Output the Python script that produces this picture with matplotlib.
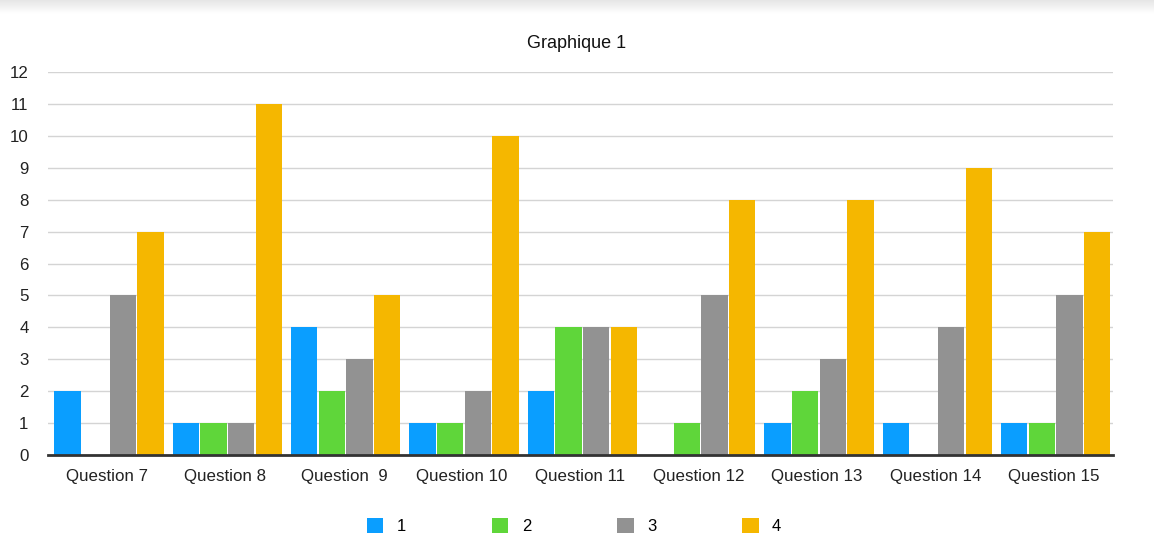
import numpy as np
import matplotlib
matplotlib.use('Agg')
import matplotlib.pyplot as plt
from matplotlib.patches import Patch

# Data
categories = ['Question 7', 'Question 8', 'Question  9', 'Question 10', 'Question 11',
              'Question 12', 'Question 13', 'Question 14', 'Question 15']
series_names = ['1', '2', '3', '4']
s1 = [2, 1, 4, 1, 2, 0, 1, 1, 1]
s2 = [0, 1, 2, 1, 4, 1, 2, 0, 1]
s3 = [5, 1, 3, 2, 4, 5, 3, 4, 5]
s4 = [7, 11, 5, 10, 4, 8, 8, 9, 7]
colors = ['#0A9EFF', '#5FD63A', '#929292', '#F5B700']

plt.rcParams['font.family'] = ['Liberation Sans', 'DejaVu Sans']

fig = plt.figure(figsize=(11.54, 5.37), dpi=100)

# light grey strip at the top of the picture
band = fig.add_axes([0, 1 - 14 / 537, 1, 14 / 537])
grad = np.linspace(0.90, 1.0, 20).reshape(-1, 1)
band.imshow(grad, cmap='gray', vmin=0, vmax=1, aspect='auto', extent=[0, 1, 0, 1])
band.axis('off')

ax = fig.add_axes([48 / 1154, 1 - 455 / 537, (1113 - 48) / 1154, (455 - 72) / 537])

x = np.arange(len(categories))
w = 0.222
step = 0.234
offsets = (np.arange(4) - 1.5) * step + 0.015
for k, vals in enumerate([s1, s2, s3, s4]):
    ax.bar(x + offsets[k], vals, width=w, color=colors[k], zorder=3)

ax.set_xlim(-0.5, len(categories) - 0.5)
ax.set_ylim(0, 12)
ax.set_yticks(range(0, 13))
ax.set_xticks(x)
ax.set_xticklabels(categories)
ax.tick_params(axis='both', length=0, labelsize=12.2, colors='#222222')
ax.tick_params(axis='y', pad=14)
ax.tick_params(axis='x', pad=10)
for lbl in ax.get_yticklabels():
    lbl.set_horizontalalignment('right')

ax.grid(axis='y', color='#d4d4d4', linewidth=1, zorder=0)
for sp in ['top', 'right', 'left']:
    ax.spines[sp].set_visible(False)
ax.spines['bottom'].set_color('#333333')
ax.spines['bottom'].set_linewidth(2)
ax.spines['bottom'].set_zorder(4)

fig.text(577 / 1154, 1 - 43 / 537, 'Graphique 1', ha='center', va='center',
         fontsize=13, color='#111111')

handles = [Patch(facecolor=c, edgecolor='none') for c in colors]
fig.legend(handles, series_names, loc='center', ncol=4,
           bbox_to_anchor=(574 / 1154, 1 - 526 / 537), frameon=False,
           fontsize=12, handlelength=1.0, handleheight=1.0,
           handletextpad=0.8, columnspacing=5.15)

fig.savefig('out.png', dpi=100)
